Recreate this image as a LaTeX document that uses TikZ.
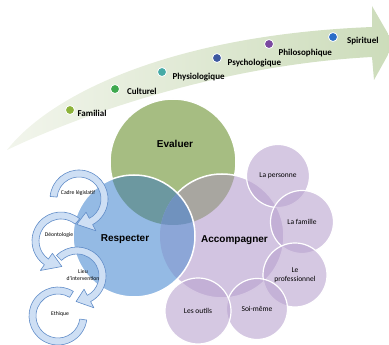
\documentclass[tikz,border=0pt]{standalone}
\usepackage{fontspec}
\setmainfont{Carlito}
\newfontfamily\vennfont{Liberation Sans}
\usetikzlibrary{positioning, calc}

\definecolor{bandgreen}{RGB}{204,220,186}
\definecolor{bandpale}{RGB}{242,245,236}
\definecolor{evalgreen}{RGB}{166,189,130}
\definecolor{respblue}{RGB}{148,186,228}
\definecolor{accpurple}{RGB}{210,196,225}
\definecolor{evalresp}{RGB}{108,152,160}
\definecolor{evalacc}{RGB}{168,166,160}
\definecolor{respacc}{RGB}{140,166,215}
\definecolor{allthree}{RGB}{112,146,190}
\definecolor{smallpurple}{RGB}{185,163,207}
\definecolor{arrowfill}{RGB}{206,223,244}
\definecolor{arrowline}{RGB}{96,140,200}
\definecolor{dotfam}{RGB}{141,179,58}
\definecolor{dotcul}{RGB}{62,168,78}
\definecolor{dotphy}{RGB}{70,170,166}
\definecolor{dotpsy}{RGB}{60,88,160}
\definecolor{dotphi}{RGB}{122,72,160}
\definecolor{dotspi}{RGB}{42,110,200}

\tikzset{
  banddot/.style={circle, draw=white, line width=0.8pt, inner sep=0pt, minimum size=9pt},
  bandlbl/.style={font=\fontsize{9}{10}\selectfont\bfseries, inner sep=0pt},
  vennlbl/.style={font=\vennfont\fontsize{10}{12}\selectfont\bfseries, inner sep=0pt},
  rim/.style={draw=white, line width=1.5pt},
  smallcirc/.style={circle, draw=white, line width=1.2pt, fill=smallpurple,
    fill opacity=0.6, text opacity=1, minimum size=63pt, inner sep=0pt,
    align=center, font=\fontsize{7.5}{9}\selectfont},
  looplbl/.style={font=\fontsize{5.7}{6.5}\selectfont, inner sep=0pt, align=center},
  loopband/.style={fill=arrowfill, draw=arrowline, line width=0.6pt, line join=round}
}

% bent arrow: centre, start angle, end angle, tip angle
\newcommand{\cyclearc}[4]{%
  \draw[loopband] ($(#1)+(#2:29)$) arc[start angle=#2, end angle=#3, radius=29]
    -- ($(#1)+(#3:36)$) -- ($(#1)+(#4:25.5)$) -- ($(#1)+(#3:15)$)
    -- ($(#1)+(#3:22)$) arc[start angle=#3, end angle=#2, radius=22] -- cycle;}

\begin{document}
\begin{tikzpicture}[x=1pt, y=1pt]
  \useasboundingbox (0,0) rectangle (389,345);
  \clip (0,0) rectangle (389,345);
  % Growing band
  \shade[left color=bandpale, right color=bandgreen]
    (7,195) .. controls (50,250) and (170,310) .. (372,318) -- (372,339)
    -- (394,301) -- (374,265) -- (372,288) .. controls (220,280) and (80,230) .. (7,195)
    -- cycle;
  % Dimensions along the band
  \foreach \id/\x/\y/\col/\txt/\dx/\dy in {fam/70/235/dotfam/Familial/2.5pt/-3,
      cul/115/256/dotcul/Culturel/7pt/-2, phy/162/273/dotphy/Physiologique/5.5pt/-5,
      psy/217/287/dotpsy/Psychologique/5.5pt/-5, phi/269/301/dotphi/Philosophique/4.5pt/-9,
      spi/333/308/dotspi/Spirituel/9pt/-4}{
    \node[banddot, fill=\col] (d\id) at (\x,\y) {};
    \node[bandlbl, right=\dx of d\id, yshift=\dy] (l\id) {\txt};
  }
  % Venn circles
  \coordinate (eval) at (173,183);
  \coordinate (resp) at (134,109);
  \coordinate (acc) at (222,109);
  \fill[evalgreen] (eval) circle (63);
  \fill[accpurple] (acc) circle (62);
  \fill[respblue] (resp) circle (61);
  \begin{scope}
    \clip (eval) circle (63);
    \fill[evalacc] (acc) circle (62);
    \fill[evalresp] (resp) circle (61);
  \end{scope}
  \begin{scope}
    \clip (acc) circle (62);
    \fill[respacc] (resp) circle (61);
    \clip (eval) circle (63);
    \fill[allthree] (resp) circle (61);
  \end{scope}
  % White rims
  \begin{scope}[even odd rule]
    \clip (-20,-20) rectangle (420,380) (acc) circle (62);
    \clip (-20,-20) rectangle (420,380) (resp) circle (61);
    \draw[rim] (eval) circle (63);
  \end{scope}
  \begin{scope}[even odd rule]
    \clip (-20,-20) rectangle (420,380) (resp) circle (61);
    \draw[rim] (acc) circle (62);
  \end{scope}
  \draw[rim] (resp) circle (61);
  \node[vennlbl] (evaltxt) at (175,201) {Evaluer};
  \node[vennlbl] (resptxt) at (125,106) {Respecter};
  \node[vennlbl] (acctxt) at (234.5,105) {Accompagner};
  % Around the person
  \node[smallcirc] (pers) at (278,169) {La personne};
  \node[smallcirc] (fami) at (302,123) {La famille};
  \node[smallcirc, minimum size=64pt] (prof) at (295,70) {Le\\professionnel};
  \node[smallcirc, minimum size=61pt] (soi) at (257,36) {Soi-même};
  \node[smallcirc, minimum size=66pt] (outils) at (198,34) {Les outils};
  % Bent arrows
  \coordinate (ethc) at (58,29);
  \coordinate (lieuc) at (77,69);
  \coordinate (deoc) at (61,104);
  \coordinate (cadc) at (79,146);
  \draw[loopband] ($(ethc)+(58:29)$) arc[start angle=58, end angle=352, radius=29]
    -- ($(ethc)+(352:22)$) arc[start angle=352, end angle=58, radius=22] -- cycle;
  \cyclearc{lieuc}{135}{-62}{-92}
  \cyclearc{deoc}{50}{235}{272}
  \cyclearc{cadc}{175}{-62}{-95}
  \node[looplbl] (cadre) at (78,152) {Cadre législatif};
  \node[looplbl] (deonto) at (59,110) {Déontologie};
  \node[looplbl] (lieu) at (83,70) {Lieu\\d'intervention};
  \node[looplbl] (ethique) at (60,31) {Ethique};
\end{tikzpicture}
\end{document}
